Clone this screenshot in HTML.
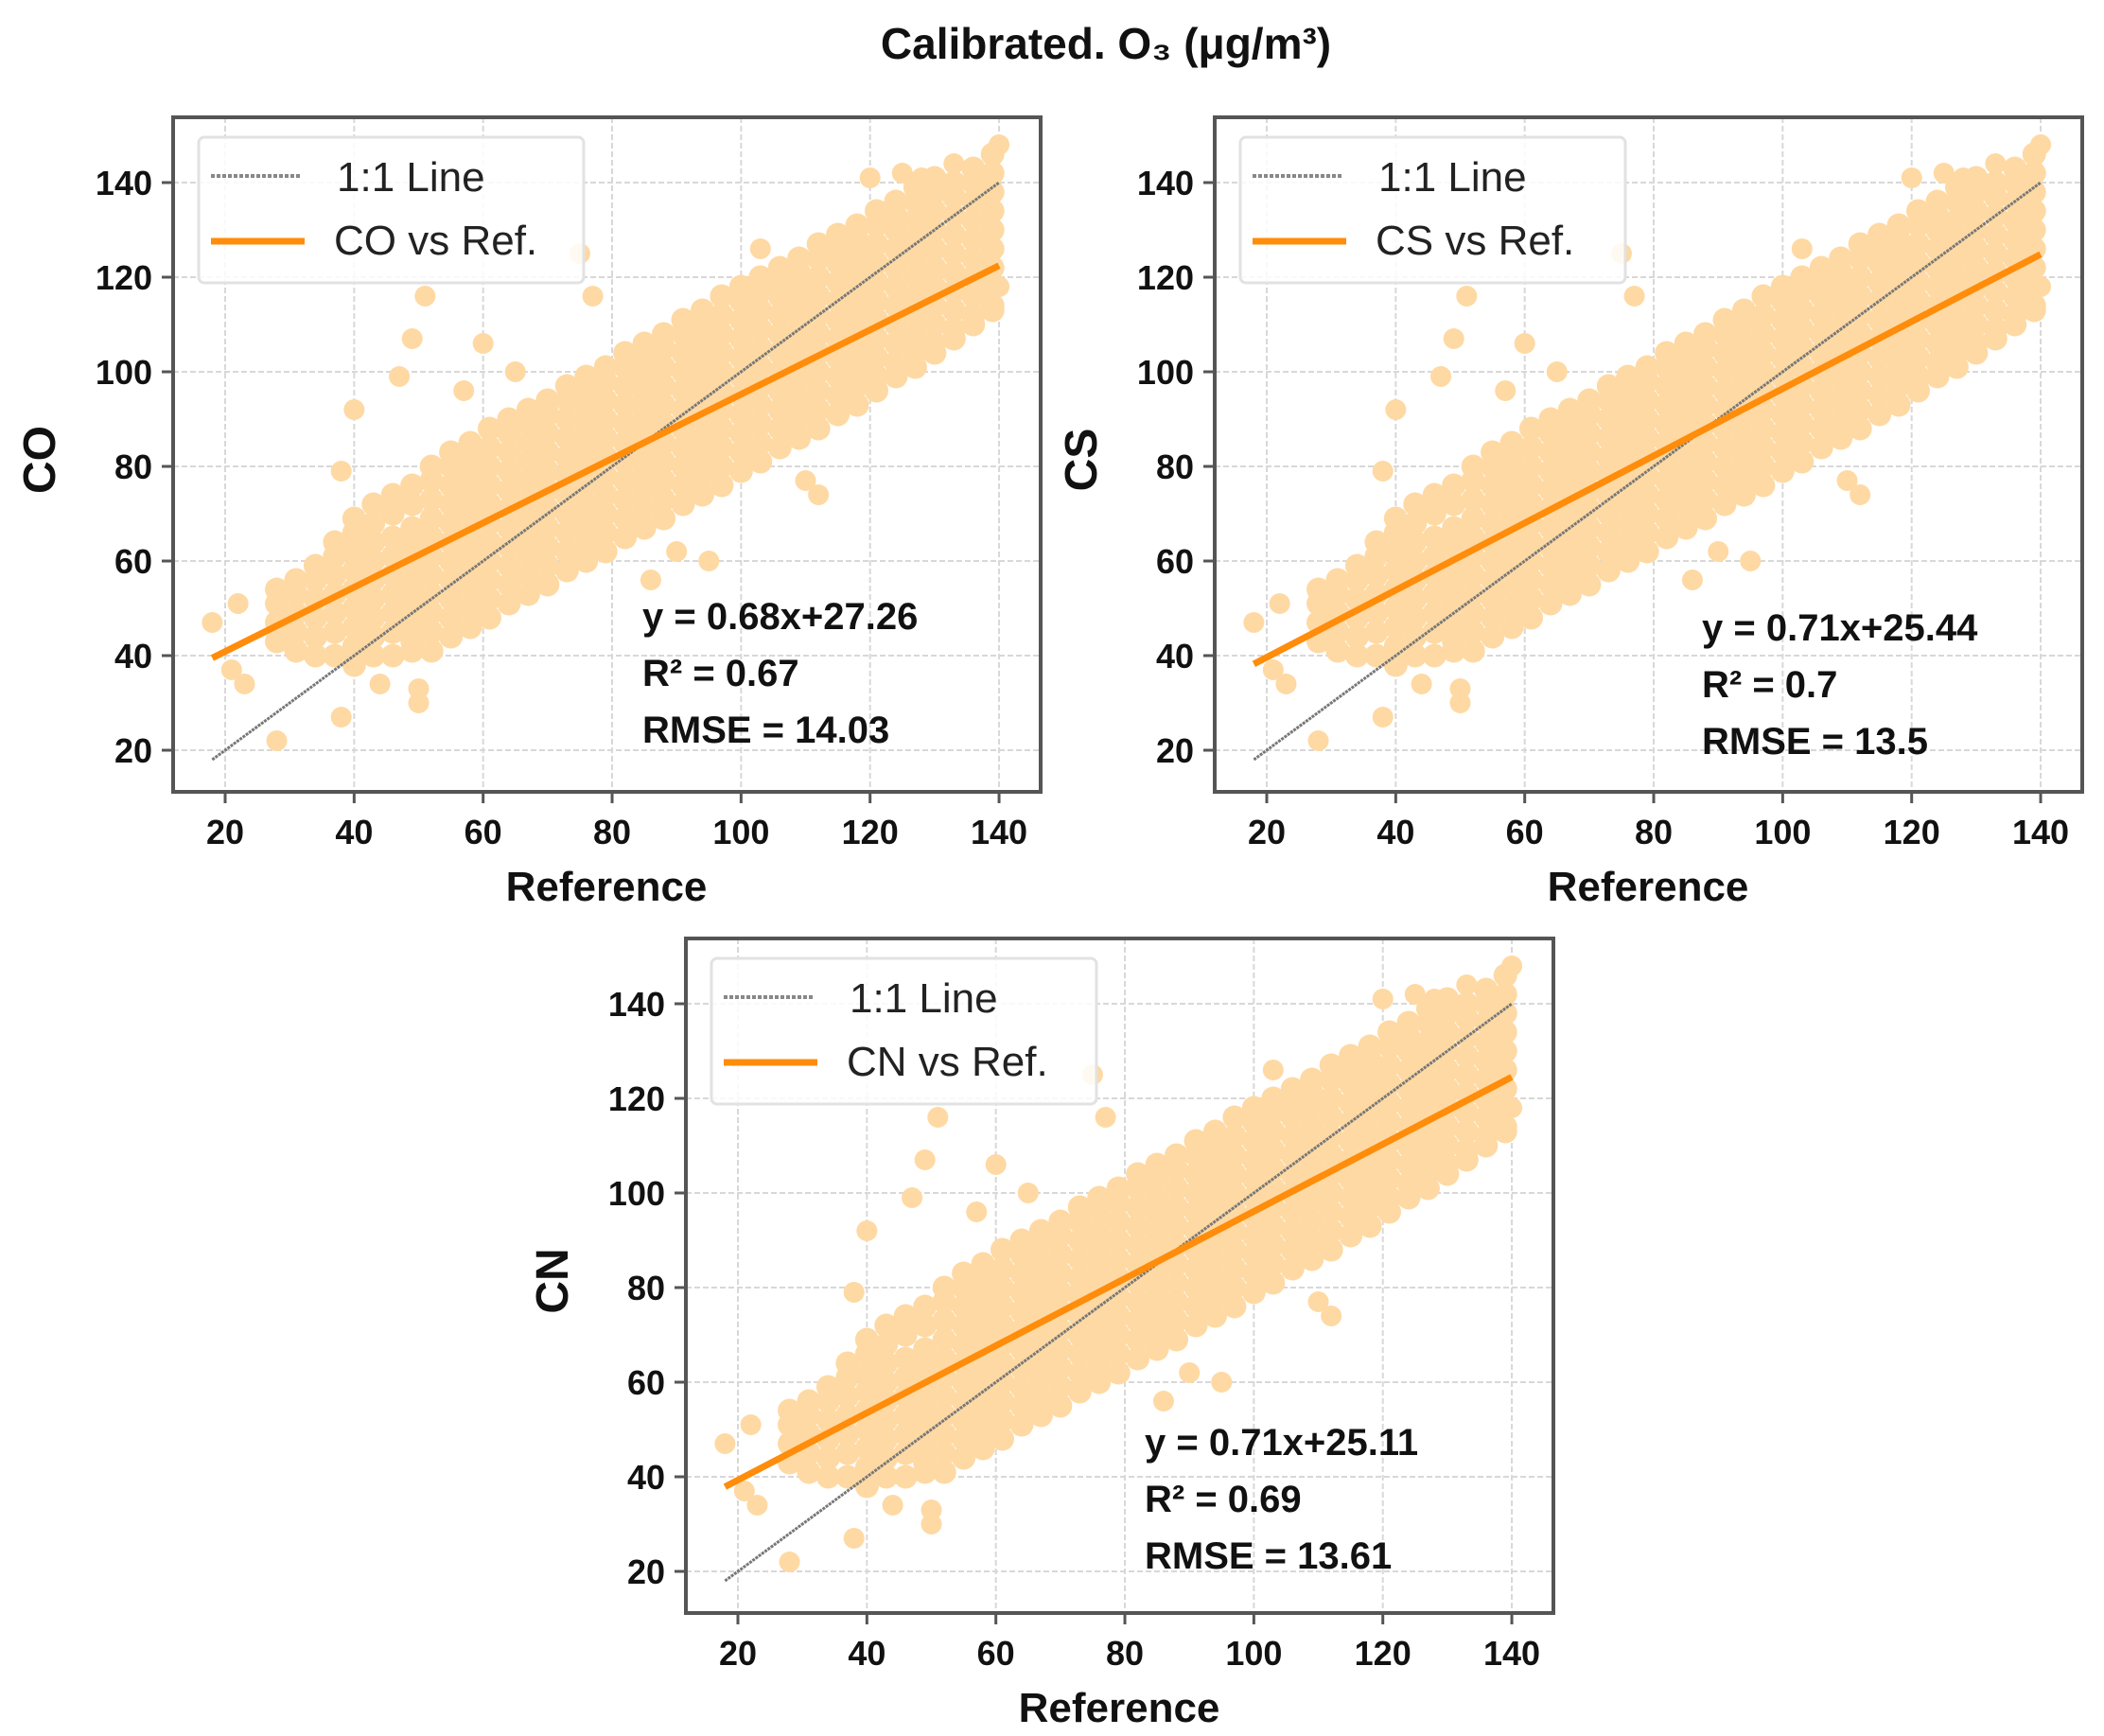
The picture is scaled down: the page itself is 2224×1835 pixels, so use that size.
<!DOCTYPE html>
<html><head><meta charset="utf-8"><style>
html,body{margin:0;padding:0;background:#fff;}
svg{display:block;font-family:"Liberation Sans",sans-serif;}
</style></head><body>
<svg id="fig" width="2224" height="1835" viewBox="0 0 2224 1835" xmlns="http://www.w3.org/2000/svg">
<text x="1169" y="62" text-anchor="middle" font-size="46" font-weight="bold" fill="#111">Calibrated. O₃ (μg/m³)</text>
</svg>
<script>
const xTicks = [20, 40, 60, 80, 100, 120, 140];
const yTicks = [20, 40, 60, 80, 100, 120, 140];
const refColumns = [28,31,34,37,40,43,46,49,52,55,58,61,64,67,70,73,76,79,82,85,88,91,94,97,100,103,106,109,112,115,118,121,124,127,130,133,136,139];
const sensorColumns = [
[43,47,51,54],[41,45,49,53,56],[40,44,48,52,56,59],[40,45,49,53,57,61,64],
[38,42,46,50,54,58,62,66,69],[40,44,48,52,56,60,64,68,72],[40,45,49,53,57,61,65,70,74],[41,43,47,51,55,59,63,67,72,76],
[41,45,49,53,57,61,65,69,73,77,80],[44,48,52,56,60,64,68,72,76,80,83],[46,50,54,58,62,66,70,74,78,82,85],[48,52,56,60,64,68,72,76,80,84,88],
[51,55,59,63,67,71,75,79,83,87,90],[53,57,61,65,69,73,77,81,85,89,92],[55,59,63,67,71,75,79,83,87,91,94],[58,62,66,70,74,78,82,86,90,94,97],
[60,64,68,72,76,80,84,88,92,96,99],[62,66,70,74,78,82,86,90,94,98,101],[65,69,73,77,81,85,89,93,97,101,104],[67,71,75,79,83,87,91,95,99,103,106],
[69,73,77,81,85,89,93,97,101,105,108],[72,76,80,84,88,92,96,100,104,108,111],[74,78,82,86,90,94,98,102,106,110,113],[76,80,84,88,92,96,100,104,108,112,116],
[79,83,87,91,95,99,103,107,111,115,118],[81,85,89,93,97,101,105,109,113,117,120],[84,88,92,96,100,104,108,112,116,119,122],[86,90,94,98,102,106,110,114,118,121,124],
[88,92,96,100,104,108,112,116,120,124,127],[91,95,99,103,107,111,115,119,123,126,129],[93,97,101,105,109,113,117,121,125,128,131],[96,99,103,107,111,115,119,123,127,131,134],
[99,102,106,110,114,118,122,126,130,133,136],[101,104,108,112,116,120,124,128,132,136,139],[104,106,110,114,118,122,126,130,134,138,141],[107,109,113,117,121,125,129,133,137,140],
[110,112,116,120,124,128,132,136,140,143],[113,114,118,122,126,130,134,138,142,146]];
const outlierRef = [18,21,23,28,38,40,47,49,51,60,75,77,22,50,50,44,38,95,112,110,118,125,133,140,140,120,128,103,86,90,57,65];
const outlierSensor = [47,37,34,22,27,92,99,107,116,106,125,116,51,30,33,34,79,60,74,77,129,142,144,148,118,141,141,126,56,62,96,100];
const panelNames = ["CO","CS","CN"];
const slopes = [0.68, 0.71, 0.71];
const intercepts = [27.26, 25.44, 25.11];
const r2Values = ["0.67","0.7","0.69"];
const rmseValues = ["14.03","13.5","13.61"];
const origins = [[183,124],[1284,124],[725,992]];
const annOffsets = [[496,527],[515,539],[485,532]];

const NS = "http://www.w3.org/2000/svg";
const svg = document.getElementById("fig");
function mk(tag, attrs, parent){const e=document.createElementNS(NS,tag);for(const k in attrs)e.setAttribute(k,attrs[k]);(parent||svg).appendChild(e);return e;}

panelNames.forEach((name, p) => {
  const [ox, oy] = origins[p];
  const W = 917, H = 713;
  const sx = v => ox + 55 + (v - 20) * 6.817;
  const sy = v => oy + 69 + (140 - v) * 5;
  const g = mk("g", {});
  
  
  xTicks.forEach(t => {
    const l = mk("line", {x1:sx(t), x2:sx(t), y1:oy, y2:oy+H, stroke:"#d8d8d8", "stroke-width":2, "stroke-dasharray":"6 3"}, g);
    
    
  });
  yTicks.forEach(t => {
    const l = mk("line", {x1:ox, x2:ox+W, y1:sy(t), y2:sy(t), stroke:"#d8d8d8", "stroke-width":2, "stroke-dasharray":"6 3"}, g);
    
    
  });
  refColumns.forEach((xv, i) => {
    sensorColumns[i].forEach(yv => {
      const c = mk("circle", {cx:sx(xv), cy:sy(yv), r:12.5, fill:"#fed9a3"}, g);
      
      
    });
  });
  outlierRef.forEach((xv, i) => {
    const c = mk("circle", {cx:sx(xv), cy:sy(outlierSensor[i]), r:11, fill:"#fed9a3"}, g);
    
    
  });
  const ll = mk("line", {x1:sx(18), y1:sy(18), x2:sx(140), y2:sy(140), stroke:"#777", "stroke-width":3, "stroke-dasharray":"3 1"}, g);
  
  
  const fl = mk("line", {x1:sx(18), y1:sy(slopes[p]*18+intercepts[p]), x2:sx(140), y2:sy(slopes[p]*140+intercepts[p]), stroke:"#ff8c0a", "stroke-width":7}, g);
  
  
  const fr = mk("rect", {x:ox, y:oy, width:W, height:H, fill:"none", stroke:"#555", "stroke-width":4}, g);
  
  
  xTicks.forEach(t => {
    mk("line", {x1:sx(t), x2:sx(t), y1:oy+H, y2:oy+H+12, stroke:"#555", "stroke-width":3}, g);
    const tx = mk("text", {x:sx(t), y:oy+H+55, "text-anchor":"middle", "font-size":36, "font-weight":"bold", fill:"#111"}, g);
    tx.textContent = t;
    
    
  });
  yTicks.forEach(t => {
    mk("line", {x1:ox-12, x2:ox, y1:sy(t), y2:sy(t), stroke:"#555", "stroke-width":3}, g);
    const tx = mk("text", {x:ox-22, y:sy(t)+13, "text-anchor":"end", "font-size":36, "font-weight":"bold", fill:"#111"}, g);
    tx.textContent = t;
    
    
  });
  const xt = mk("text", {x:ox+458, y:oy+828, "text-anchor":"middle", "font-size":44, "font-weight":"bold", fill:"#111"}, g);
  xt.textContent = "Reference";
  
  
  const yt = mk("text", {x:0, y:0, "text-anchor":"middle", "font-size":48, "font-weight":"bold", fill:"#111", transform:`translate(${ox-125},${oy+362}) rotate(-90)`}, g);
  yt.textContent = name;
  
  
  const lg = mk("g", {}, g);
  
  
  mk("rect", {x:ox+27, y:oy+21, width:407, height:154, rx:6, fill:"#fff", "fill-opacity":0.85, stroke:"#e2e2e2", "stroke-width":3}, lg);
  mk("line", {x1:ox+40, x2:ox+135, y1:oy+62, y2:oy+62, stroke:"#888", "stroke-width":4, "stroke-dasharray":"4 2"}, lg);
  mk("line", {x1:ox+40, x2:ox+139, y1:oy+131, y2:oy+131, stroke:"#ff8c0a", "stroke-width":7}, lg);
  const t1 = mk("text", {x:ox+173, y:oy+78, "font-size":44, fill:"#222"}, lg);
  t1.textContent = "1:1 Line";
  
  
  const t2 = mk("text", {x:ox+170, y:oy+145, "font-size":44, fill:"#222"}, lg);
  t2.textContent = name + " vs Ref.";
  
  
  const [ax, ay] = annOffsets[p];
  const lines = ["y = " + slopes[p].toFixed(2) + "x+" + intercepts[p].toFixed(2), "R² = " + r2Values[p], "RMSE = " + rmseValues[p]];
  lines.forEach((s, i) => {
    const a = mk("text", {x:ox+ax, y:oy+ay+14+i*60, "font-size":40, "font-weight":"bold", fill:"#111"}, g);
    a.textContent = s;
    
    
  });
});
</script>
</body></html>
